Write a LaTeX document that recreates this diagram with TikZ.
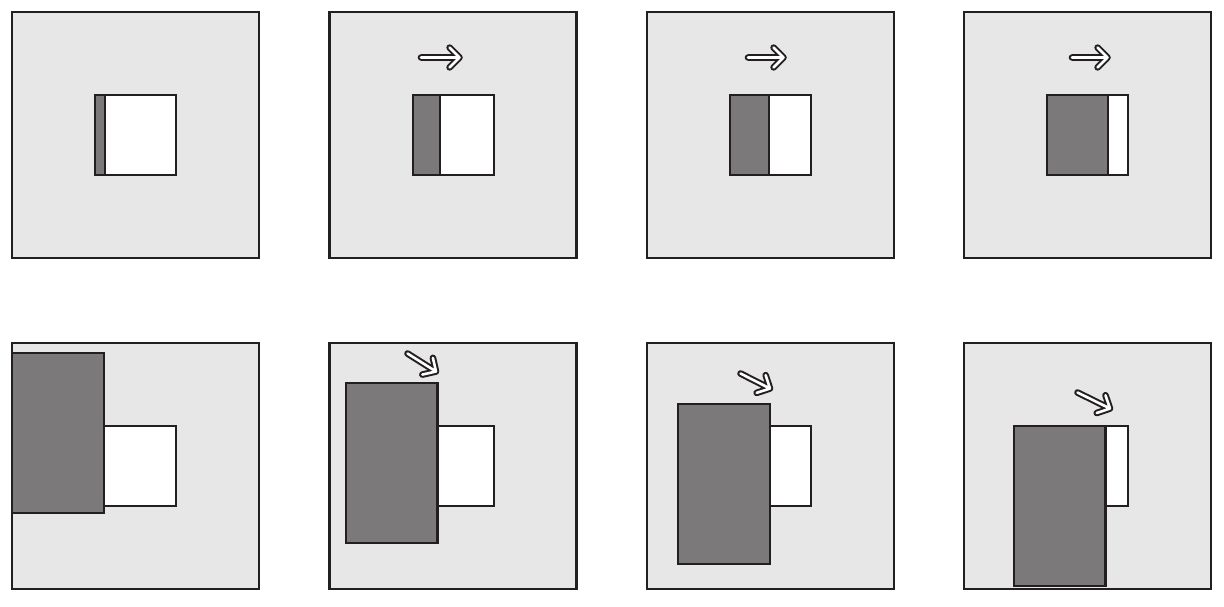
\documentclass[tikz,border=0pt]{standalone}
\usetikzlibrary{calc}
\definecolor{panelbg}{RGB}{231,231,232}
\definecolor{darkfill}{RGB}{123,121,122}
\definecolor{ink}{RGB}{35,31,32}
\tikzset{
  panel/.style={fill=panelbg,draw=ink,line width=2.3pt},
  window/.style={fill=white,draw=ink,line width=2.2pt},
  shade/.style={fill=darkfill,draw=ink,line width=2.2pt},
  arrowout/.style={draw=ink,line width=6.6pt,line cap=round,line join=round},
  arrowin/.style={draw=white,line width=2.6pt,line cap=round,line join=round},
}
\newcommand\harrow[2]{%
  \draw[arrowout] (#1) -- (#2) ($(#2)!14pt!45:(#1)$) -- (#2) -- ($(#2)!14pt!-45:(#1)$);
  \draw[arrowin] (#1) -- (#2) ($(#2)!14pt!45:(#1)$) -- (#2) -- ($(#2)!14pt!-45:(#1)$);
}
\begin{document}
\begin{tikzpicture}[x=1pt,y=-1pt]
\useasboundingbox (0,0) rectangle (1224,606);
% top row
\foreach \i/\w in {0/9.4,1/27,2/39,3/61}{
  \pgfmathsetmacro\L{12.3+317.33*\i}
  \draw[panel] (\L,11.7) rectangle ++(247,246);
  \draw[window] ({\L+83},94.7) rectangle ++(81,80);
  \draw[shade] ({\L+83},94.7) rectangle ++(\w,80);
}
% bottom row
\foreach \i/\dx/\dy in {0/0/10,1/16.2/40,2/31/61.6,3/49.4/83.3}{
  \pgfmathsetmacro\L{12.3+317.33*\i}
  \draw[panel] (\L,342.7) rectangle ++(247,246.6);
  \draw[window] ({\L+83},426.2) rectangle ++(81,80);
  \draw[shade] ({\L+\dx},{342.7+\dy}) rectangle ++(91.7,160);
}
% arrows, top row
\coordinate (t2s) at (421,57.5); \coordinate (t2e) at (459.5,57.5);
\coordinate (t3s) at (748,57.5); \coordinate (t3e) at (783.5,57.5);
\coordinate (t4s) at (1072,57.5); \coordinate (t4e) at (1107.5,57.5);
\harrow{t2s}{t2e}
\harrow{t3s}{t3e}
\harrow{t4s}{t4e}
% arrows, bottom row
\coordinate (b2s) at (407.5,353.5); \coordinate (b2e) at (436,371.5);
\coordinate (b3s) at (740.5,373.5); \coordinate (b3e) at (770,388.5);
\coordinate (b4s) at (1077.5,392.5); \coordinate (b4e) at (1110,408.5);
\harrow{b2s}{b2e}
\harrow{b3s}{b3e}
\harrow{b4s}{b4e}
\end{tikzpicture}
\end{document}
